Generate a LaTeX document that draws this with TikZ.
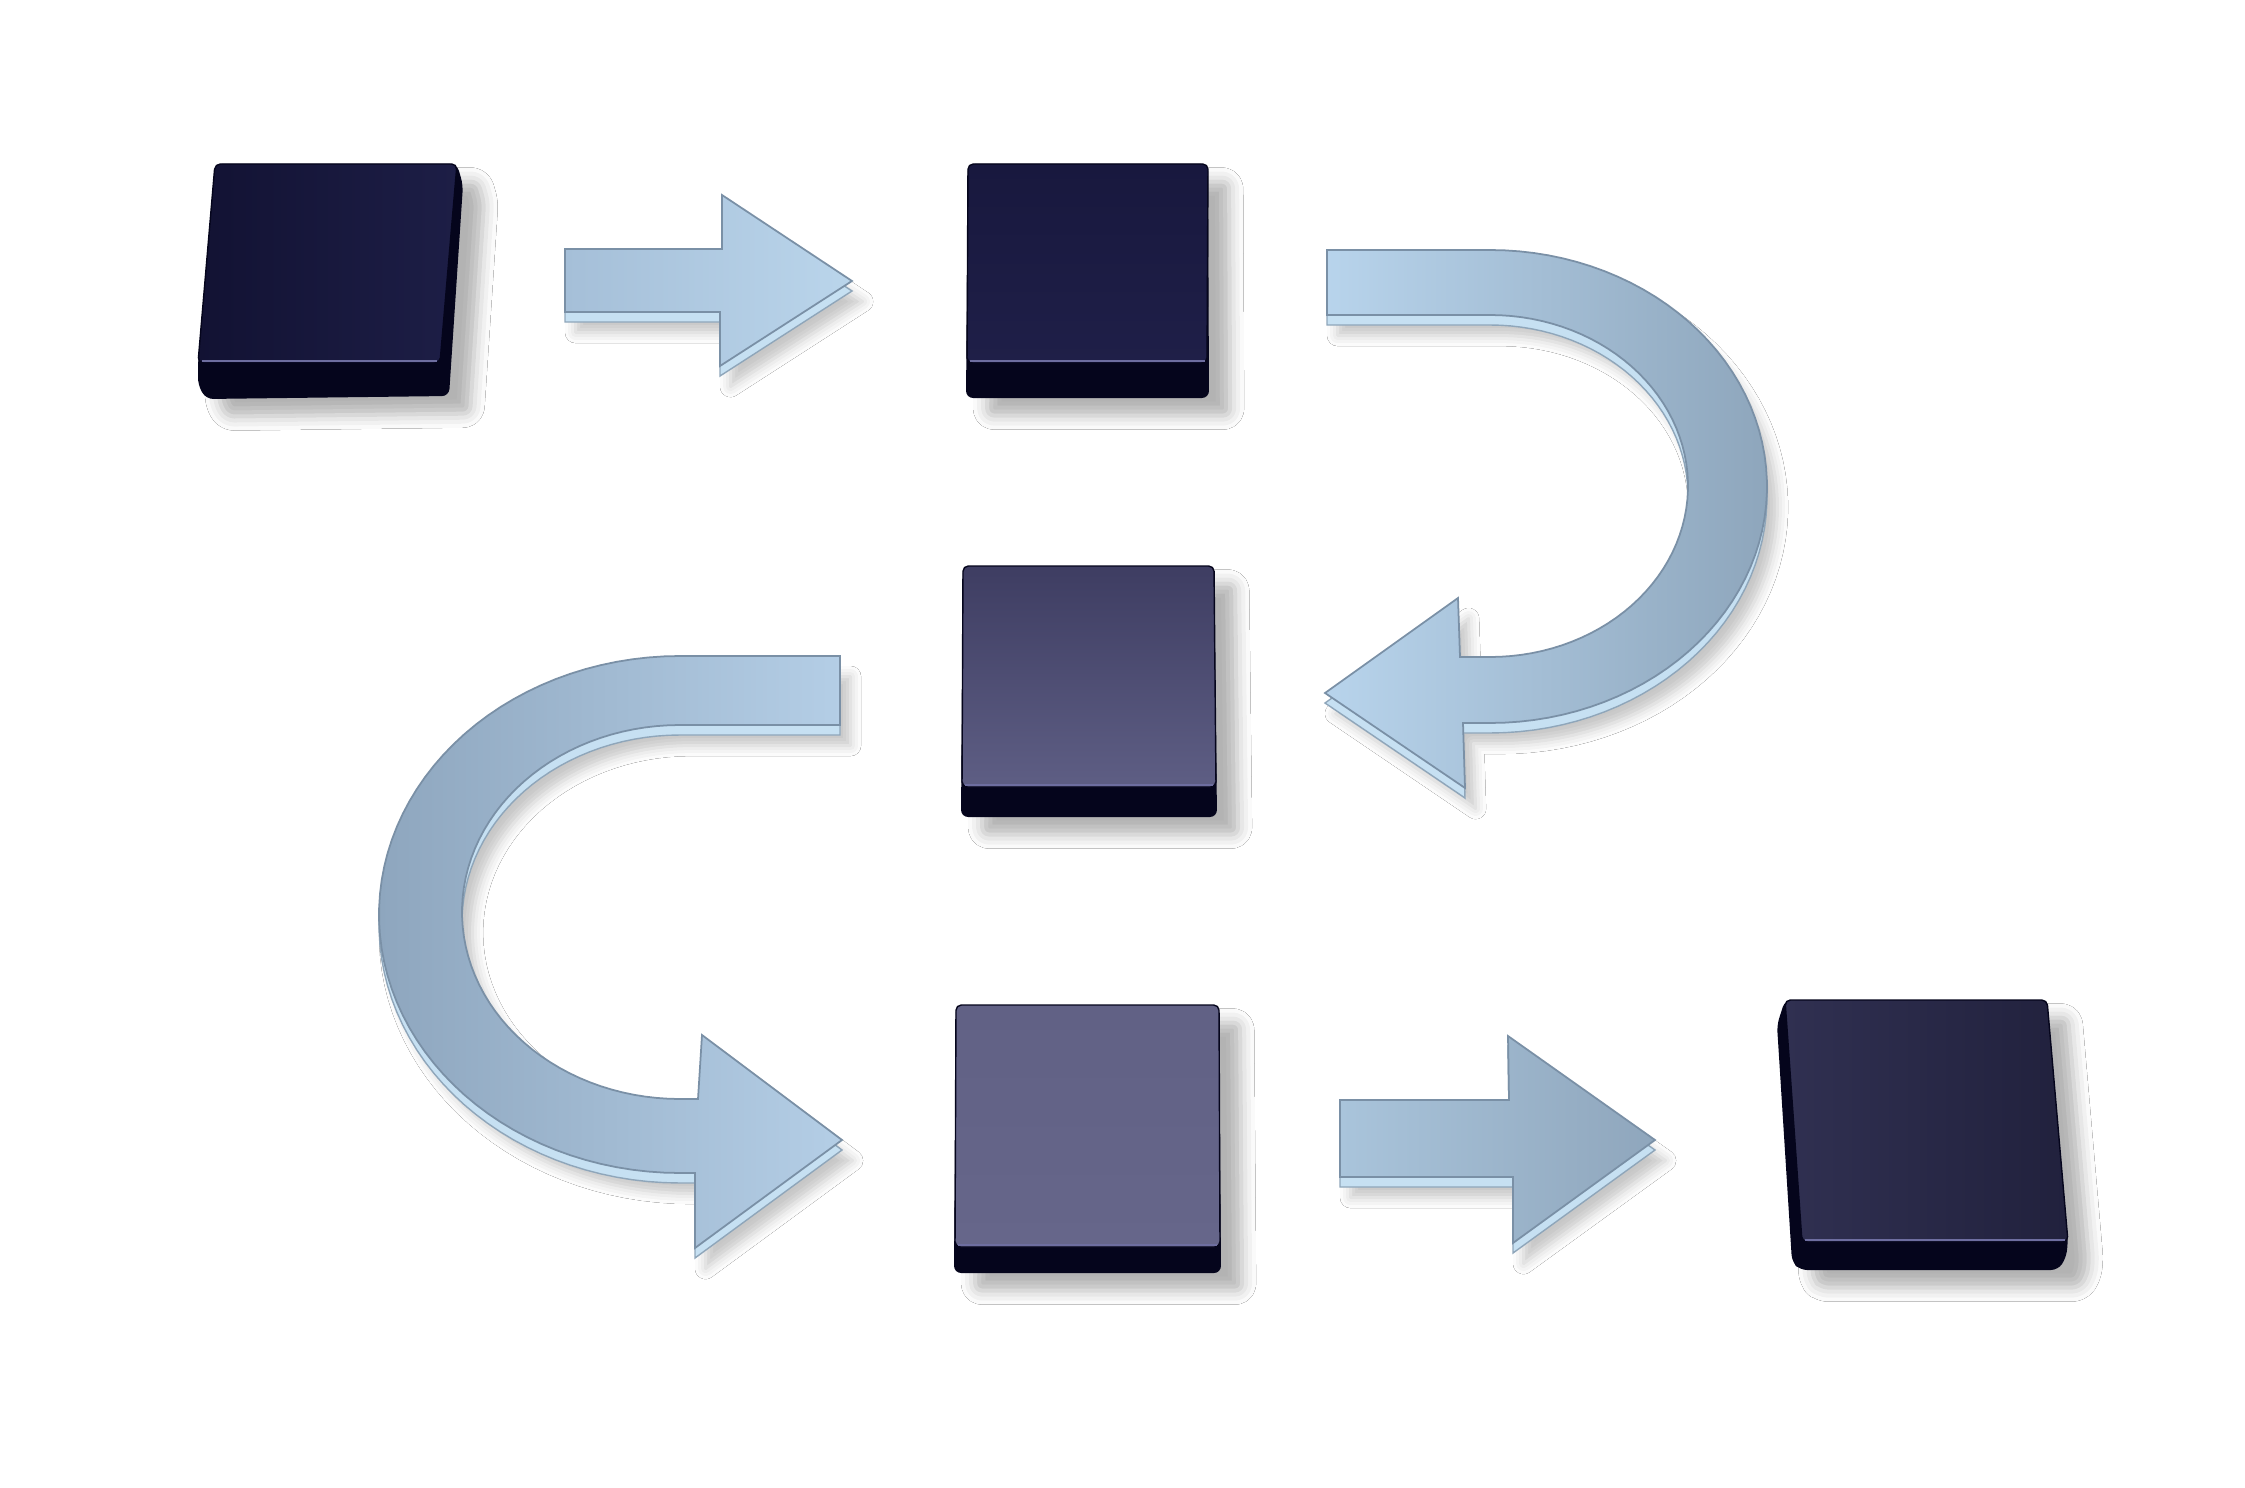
\documentclass[tikz,border=0pt]{standalone}
\usetikzlibrary{shadows.blur}
\definecolor{frontc}{HTML}{05051C}
\definecolor{hlc}{HTML}{6E6EA0}
\definecolor{edgec}{HTML}{C6E0F2}
\definecolor{edgeline}{HTML}{8FA6BA}
\definecolor{faceline}{HTML}{7A90A6}
\definecolor{bAa}{RGB}{18,18,51}
\definecolor{bAb}{RGB}{29,30,70}
\definecolor{bBa}{RGB}{24,24,62}
\definecolor{bBb}{RGB}{31,31,72}
\definecolor{bCa}{RGB}{62,61,98}
\definecolor{bCb}{RGB}{94,94,132}
\definecolor{bDa}{RGB}{97,97,133}
\definecolor{bDb}{RGB}{102,102,138}
\definecolor{bEa}{RGB}{48,48,81}
\definecolor{bEb}{RGB}{33,33,61}
\definecolor{aAa}{RGB}{165,191,216}
\definecolor{aAb}{RGB}{186,213,235}
\definecolor{aBa}{RGB}{184,212,236}
\definecolor{aBb}{RGB}{142,166,188}
\definecolor{aCa}{RGB}{142,166,190}
\definecolor{aCb}{RGB}{180,206,230}
\definecolor{aDa}{RGB}{169,196,219}
\definecolor{aDb}{RGB}{143,166,188}
\newcommand\arrAshape{(565,249) -- (722,249) -- (722,195) -- (852,281) -- (720,366) -- (720,312) -- (565,312) -- cycle}
\newcommand\arrDshape{(1340,1100) -- (1509,1100) -- (1508,1036) -- (1655,1140) -- (1513,1243) -- (1513,1177) -- (1340,1177) -- cycle}
\newcommand\arrBshape{(1327,250) -- (1490,250) -- plot[domain=-90:90,samples=60] ({1490+277*cos(\x)},{486.5+236.5*sin(\x)}) -- (1463,723) -- (1465,788) -- (1325,693) -- (1458,598) -- (1460,657) -- (1490,657) -- plot[domain=90:-90,samples=60] ({1490+198*cos(\x)},{486+171*sin(\x)}) -- (1327,315) -- cycle}
\newcommand\arrCshape{(840,656) -- (680,656) -- plot[domain=-90:-270,samples=60] ({680+301*cos(\x)},{914.5+258.5*sin(\x)}) -- (695,1173) -- (695,1248) -- (842,1140) -- (702,1035) -- (698,1099) -- (680,1099) -- plot[domain=-270:-90,samples=60] ({680+218*cos(\x)},{912+187*sin(\x)}) -- (840,725) -- cycle}
\tikzset{
  boxbody/.style={fill=frontc, rounded corners=2pt,
    blur shadow={shadow xshift=6pt, shadow yshift=-5pt, shadow opacity=30, shadow blur radius=4pt}},
  boxtop/.style={rounded corners=1.5pt, draw=frontc, line width=0.4pt},
  hlline/.style={draw=hlc, line width=0.8pt},
  arrowedge/.style={fill=edgec, draw=edgeline, line width=0.4pt, shift={(0,10)},
    blur shadow={shadow xshift=3pt, shadow yshift=-3pt, shadow opacity=22, shadow blur radius=3pt}},
  arrowface/.style={draw=faceline, line width=0.5pt}
}
\begin{document}
\begin{tikzpicture}[x=0.01cm,y=-0.01cm]
\fill[white] (0,0) rectangle (2245,1488);
\useasboundingbox (0,0) rectangle (2245,1488);

% ---------- boxes ----------
% box 1
\coordinate (b1) at (328,280);
\path[boxbody] (215,164) -- (457,164) -- (463,185) -- (449,396) -- (206,399) -- (198,385) -- (198,363) -- cycle;
\path[boxtop, left color=bAa, right color=bAb] (215,164) -- (457,164) -- (440,363) -- (198,363) -- cycle;
\path[hlline] (202,361) -- (437,361);
% box 2
\coordinate (b2) at (1087,280);
\path[boxbody] (968,164) -- (1208,164) -- (1209,398) -- (966,398) -- cycle;
\path[boxtop, top color=bBa, bottom color=bBb] (968,164) -- (1208,164) -- (1207,363) -- (967,363) -- cycle;
\path[hlline] (970,361) -- (1205,361);
% box 3
\coordinate (b3) at (1088,690);
\path[boxbody] (963,566) -- (1214,566) -- (1217,817) -- (961,817) -- cycle;
\path[boxtop, top color=bCa, bottom color=bCb] (963,566) -- (1214,566) -- (1216,787) -- (962,787) -- cycle;
\path[hlline] (965,785) -- (1213,785);
% box 4
\coordinate (b4) at (1088,1140);
\path[boxbody] (956,1005) -- (1219,1005) -- (1221,1273) -- (954,1273) -- cycle;
\path[boxtop, top color=bDa, bottom color=bDb] (956,1005) -- (1219,1005) -- (1220,1247) -- (955,1247) -- cycle;
\path[hlline] (958,1245) -- (1217,1245);
% box 5
\coordinate (b5) at (1925,1135);
\path[boxbody] (1785,1000) -- (2047,1000) -- (2068,1242) -- (2066,1258) -- (2058,1270) -- (1800,1270) -- (1792,1262) -- (1777,1025) -- cycle;
\path[boxtop, left color=bEa, right color=bEb] (1785,1000) -- (2047,1000) -- (2068,1242) -- (1802,1242) -- cycle;
\path[hlline] (1805,1240) -- (2065,1240);

% ---------- arrows ----------
% arrow A
\path[arrowedge] \arrAshape;
\path[arrowface, left color=aAa, right color=aAb] \arrAshape;
% arrow B
\path[arrowedge] \arrBshape;
\path[arrowface, left color=aBa, right color=aBb] \arrBshape;
% arrow C
\path[arrowedge] \arrCshape;
\path[arrowface, left color=aCa, right color=aCb] \arrCshape;
% arrow D
\path[arrowedge] \arrDshape;
\path[arrowface, left color=aDa, right color=aDb] \arrDshape;
\end{tikzpicture}
\end{document}
